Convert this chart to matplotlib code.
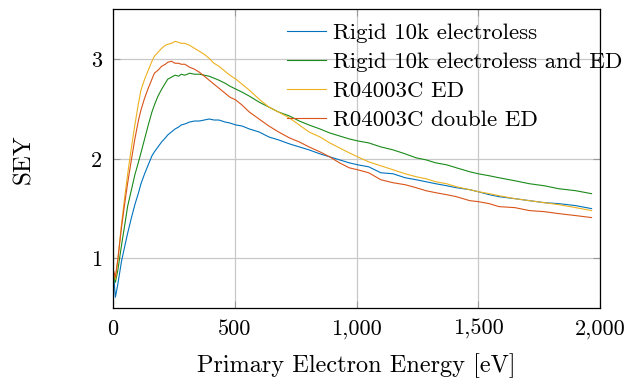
import matplotlib
matplotlib.use("Agg")
import matplotlib.pyplot as plt

plt.rcParams['font.family'] = ['cmr10', 'DejaVu Serif']
plt.rcParams['mathtext.fontset'] = 'cm'
plt.rcParams['axes.unicode_minus'] = False

# primary electron energy [eV], shared by all four measurements
energy = [2, 10, 20, 35, 50, 60, 75, 90, 105, 115, 130, 145, 160, 170, 185, 200,
          215, 225, 240, 255, 270, 280, 295, 315, 335, 355, 375, 395, 415, 435,
          460, 480, 505, 530, 560, 600, 640, 680, 725, 765, 805, 850, 890, 930,
          970, 1005, 1050, 1100, 1150, 1200, 1245, 1285, 1325, 1370, 1410, 1465,
          1500, 1545, 1585, 1650, 1710, 1770, 1830, 1900, 1965]

rigid_electroless = [0.86, 0.61, 0.74, 0.97, 1.14, 1.25, 1.40, 1.54, 1.66, 1.75, 1.85, 1.94,
                     2.03, 2.07, 2.12, 2.17, 2.21, 2.24, 2.27, 2.30, 2.32, 2.34, 2.35, 2.37,
                     2.38, 2.38, 2.39, 2.40, 2.39, 2.39, 2.37, 2.36, 2.34, 2.33, 2.30, 2.27,
                     2.22, 2.19, 2.15, 2.12, 2.09, 2.05, 2.02, 1.99, 1.96, 1.94, 1.92, 1.86,
                     1.85, 1.81, 1.79, 1.77, 1.75, 1.73, 1.71, 1.69, 1.67, 1.64, 1.62, 1.60,
                     1.58, 1.56, 1.55, 1.53, 1.50]

rigid_electroless_ed = [0.85, 0.76, 0.88, 1.13, 1.36, 1.52, 1.68, 1.84, 1.97, 2.06, 2.20, 2.34,
                        2.47, 2.54, 2.63, 2.70, 2.76, 2.80, 2.82, 2.84, 2.83, 2.85, 2.84, 2.86,
                        2.85, 2.85, 2.84, 2.83, 2.81, 2.79, 2.76, 2.73, 2.70, 2.67, 2.63, 2.57,
                        2.52, 2.47, 2.43, 2.38, 2.34, 2.30, 2.26, 2.23, 2.20, 2.18, 2.16, 2.12,
                        2.09, 2.05, 2.01, 1.99, 1.96, 1.94, 1.91, 1.87, 1.85, 1.83, 1.81, 1.78,
                        1.75, 1.73, 1.70, 1.68, 1.65]

r04003c_ed = [0.88, 0.79, 0.98, 1.34, 1.65, 1.84, 2.10, 2.34, 2.56, 2.69, 2.80, 2.89,
              2.98, 3.03, 3.07, 3.11, 3.14, 3.15, 3.16, 3.18, 3.17, 3.16, 3.16, 3.14,
              3.11, 3.08, 3.05, 3.01, 2.96, 2.93, 2.88, 2.84, 2.80, 2.75, 2.69, 2.60,
              2.52, 2.47, 2.41, 2.34, 2.27, 2.22, 2.16, 2.11, 2.06, 2.02, 1.97, 1.93,
              1.89, 1.85, 1.82, 1.80, 1.77, 1.75, 1.72, 1.69, 1.67, 1.65, 1.63, 1.60,
              1.58, 1.56, 1.54, 1.51, 1.48]

r04003c_double_ed = [0.88, 0.81, 0.99, 1.31, 1.58, 1.75, 1.98, 2.20, 2.39, 2.49, 2.61, 2.71,
                     2.80, 2.86, 2.89, 2.93, 2.95, 2.97, 2.98, 2.96, 2.96, 2.95, 2.95, 2.92,
                     2.90, 2.87, 2.83, 2.79, 2.75, 2.71, 2.66, 2.62, 2.59, 2.54, 2.47, 2.40,
                     2.33, 2.27, 2.21, 2.17, 2.12, 2.07, 2.02, 1.96, 1.91, 1.89, 1.86, 1.79,
                     1.76, 1.74, 1.71, 1.68, 1.66, 1.64, 1.62, 1.58, 1.57, 1.55, 1.52, 1.51,
                     1.48, 1.47, 1.45, 1.43, 1.41]

labels = ['Rigid 10k electroless', 'Rigid 10k electroless and ED',
          'R04003C ED', 'R04003C double ED']
colors = ['#0072BD', '#1A8A1A', '#EDB120', '#D95319']

xticks = [0, 500, 1000, 1500, 2000]
xticklabels = ['0', '500', '1,000', '1,500', '2,000']
yticks = [1, 2, 3]

fig = plt.figure(figsize=(6.31, 3.80), dpi=100)
ax = fig.add_axes([0.179, 0.189, 0.772, 0.786])

series = [rigid_electroless, rigid_electroless_ed, r04003c_ed, r04003c_double_ed]
for ys, lab, col in zip(series, labels, colors):
    ax.plot(energy, ys, color=col, lw=0.8, label=lab)

ax.set_xlim(0, 2000)
ax.set_ylim(0.5, 3.5)
ax.set_xticks(xticks, xticklabels)
ax.set_yticks(yticks)
ax.grid(True, color='#c8c8c8', lw=0.9)
ax.set_axisbelow(True)
ax.tick_params(direction='in', length=5, color='#999999', labelsize=16, pad=8,
               top=True, right=True)
for s in ax.spines.values():
    s.set_linewidth(0.9)

ax.set_xlabel('Primary Electron Energy [eV]', fontsize=17.5, labelpad=10)
ax.set_ylabel('SEY', fontsize=18, labelpad=40)

# legend sits partly outside the frame on the right, as in the paper figure
ax.legend(loc='upper left', bbox_to_anchor=(0.33, 1.0), frameon=False,
          fontsize=16.5, handlelength=1.7, handletextpad=0.3, labelspacing=0.38,
          borderaxespad=0.2)

fig.savefig('out.png', dpi=100)
